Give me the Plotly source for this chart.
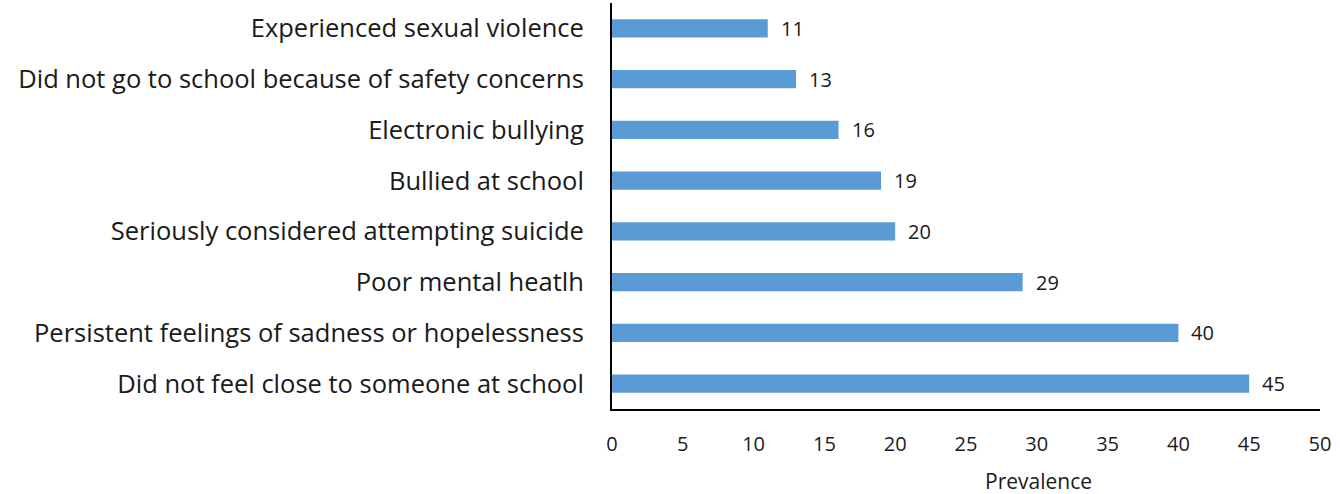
import plotly.graph_objects as go

categories = [
    "Did not feel close to someone at school",
    "Persistent feelings of sadness or hopelessness",
    "Poor mental heatlh",
    "Seriously considered attempting suicide",
    "Bullied at school",
    "Electronic bullying",
    "Did not go to school because of safety concerns",
    "Experienced sexual violence",
]
values = [45, 40, 29, 20, 19, 16, 13, 11]
x_ticks = [0, 5, 10, 15, 20, 25, 30, 35, 40, 45, 50]
x_title = "Prevalence"

FONT = "Open Sans"
TXT = "#1a1a1a"
fig = go.Figure()
fig.add_trace(go.Bar(
    y=categories, x=values, orientation="h",
    marker=dict(color="#5B9BD5", line=dict(width=0)),
))
for c, v in zip(categories, values):
    fig.add_annotation(x=v, y=c, text=str(v), showarrow=False, xanchor="left",
                       xshift=11, font=dict(family=FONT, size=20, color=TXT))
fig.add_annotation(text=x_title, showarrow=False, xref="x domain", yref="y domain",
                   x=(1038 - 612) / 708, y=-(481 - 409) / 406,
                   xanchor="center", yanchor="middle",
                   font=dict(family=FONT, size=21, color=TXT))
fig.update_layout(
    width=1340, height=494,
    margin=dict(l=612, r=20, t=3, b=85),
    paper_bgcolor="white", plot_bgcolor="white",
    showlegend=False, bargap=0.645,
    font=dict(family=FONT, color=TXT),
    xaxis=dict(range=[0, 50], tickvals=x_ticks, showgrid=False, zeroline=False,
               showline=True, linecolor="black", linewidth=2,
               tickfont=dict(size=20), ticklabelstandoff=16, fixedrange=True),
    yaxis=dict(showgrid=False, zeroline=False, showline=True, linecolor="black",
               linewidth=2, tickfont=dict(size=25.5), ticklabelstandoff=21,
               categoryorder="array", categoryarray=categories),
)
fig.write_html("out.html")
